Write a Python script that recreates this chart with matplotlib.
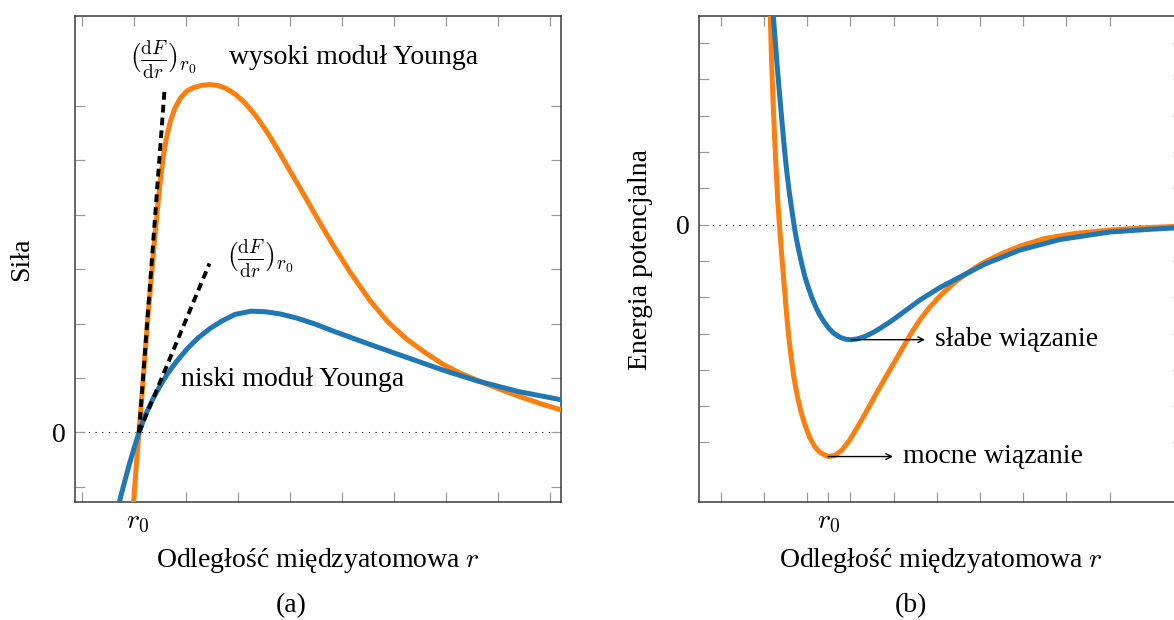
import matplotlib
matplotlib.use("Agg")
import matplotlib.pyplot as plt

plt.rcParams['font.family'] = ['Liberation Serif', 'DejaVu Serif']
plt.rcParams['mathtext.fontset'] = 'cm'

# ---------------- panel (a): force vs distance ----------------
r0_a = 1.07
force_strong_r = [0.987, 1.042, 1.096, 1.146, 1.204, 1.265, 1.333, 1.396, 1.458, 1.512, 1.567,
                  1.631, 1.702, 1.788, 1.894, 2.019, 2.154, 2.308, 2.462, 2.615, 2.769, 2.942,
                  3.135, 3.346, 3.558, 3.769, 4.000, 4.260, 4.538, 4.827, 5.154, 5.538, 5.885,
                  6.250, 6.596, 6.962, 7.269, 7.608, 8.000, 8.385, 8.808, 9.288]
force_strong_F = [-1.351, -0.634, 0.0, 0.597, 1.333, 2.105, 2.840, 3.539, 4.182, 4.678, 5.101,
                  5.450, 5.726, 5.965, 6.149, 6.278, 6.342, 6.382, 6.395, 6.379, 6.324, 6.222,
                  6.057, 5.818, 5.524, 5.193, 4.807, 4.384, 3.915, 3.447, 2.950, 2.425, 2.031,
                  1.710, 1.471, 1.241, 1.094, 0.956, 0.809, 0.671, 0.533, 0.395]
force_weak_r = [0.698, 0.808, 0.904, 1.000, 1.096, 1.212, 1.358, 1.500, 1.654, 1.827, 2.019,
                2.231, 2.462, 2.692, 2.942, 3.250, 3.519, 3.808, 4.115, 4.481, 4.827, 5.538,
                6.250, 6.962, 7.608, 8.385, 9.288]
force_weak_F = [-1.351, -0.947, -0.607, -0.294, 0.0, 0.303, 0.607, 0.855, 1.094, 1.314, 1.535,
                1.737, 1.912, 2.050, 2.170, 2.230, 2.220, 2.180, 2.107, 1.994, 1.866, 1.618,
                1.379, 1.140, 0.947, 0.754, 0.588]
tangent_strong_r = [1.096, 1.587]
tangent_strong_F = [0.0, 6.296]
tangent_weak_r = [1.096, 2.452]
tangent_weak_F = [0.0, 3.107]

# ---------------- panel (b): potential energy vs distance ----------------
r0_b = 2.49
energy_weak_r = [1.199, 1.218, 1.257, 1.296, 1.340, 1.384, 1.431, 1.477, 1.528, 1.581, 1.639,
                 1.697, 1.755, 1.813, 1.882, 1.951, 2.032, 2.113, 2.206, 2.299, 2.403, 2.507,
                 2.623, 2.762, 2.900, 3.016, 3.155, 3.340, 3.572, 3.919, 4.266, 4.613, 5.076,
                 5.539, 6.118, 6.928, 7.854, 9.012, 9.938, 10.748]
energy_weak_E = [6.052, 5.749, 5.143, 4.537, 3.904, 3.298, 2.664, 2.058, 1.479, 0.956, 0.460,
                 -0.008, -0.408, -0.752, -1.110, -1.441, -1.744, -2.019, -2.281, -2.501, -2.694, -2.860,
                 -2.997, -3.102, -3.157, -3.168, -3.149, -3.080, -2.942, -2.680, -2.377, -2.074, -1.730,
                 -1.441, -1.083, -0.697, -0.408, -0.201, -0.127, -0.074]
energy_strong_r = [1.141, 1.176, 1.211, 1.250, 1.289, 1.324, 1.359, 1.400, 1.444, 1.488, 1.530,
                   1.576, 1.632, 1.697, 1.773, 1.859, 1.951, 2.056, 2.171, 2.299, 2.484, 2.646,
                   2.808, 2.970, 3.141, 3.340, 3.565, 3.780, 3.988, 4.197, 4.414, 4.625, 4.838,
                   5.053, 5.262, 5.470, 5.685, 5.898, 6.109, 6.465, 6.951, 7.507, 8.201, 9.012,
                   9.938, 10.748]
energy_strong_E = [6.052, 4.537, 3.435, 2.333, 1.369, 0.598, -0.008, -0.669, -1.303, -1.937, -2.543,
                   -3.094, -3.672, -4.223, -4.719, -5.160, -5.518, -5.848, -6.110, -6.275, -6.388, -6.358,
                   -6.207, -5.959, -5.628, -5.215, -4.730, -4.278, -3.854, -3.424, -2.983, -2.598, -2.273,
                   -1.992, -1.758, -1.537, -1.353, -1.179, -1.030, -0.815, -0.581, -0.380, -0.242, -0.146,
                   -0.077, -0.036]
weak_min_r, weak_min_E = 3.016, -3.168
strong_min_r, strong_min_E = 2.484, -6.388
arrow_weak_end = 4.729
arrow_strong_end = 3.988

xticks_a = list(range(0, 10))
yticks_a = list(range(-1, 7))
xticks_b = list(range(0, 10))
yticks_b = list(range(-6, 6))

xlabel = "Odległość międzyatomowa $r$"

BLUE = '#1f77b4'
ORANGE = '#ff7f0e'
TICKC = '#9a9a9a'
SPINEC = '#3a3a3a'
FS = 20
LW = 3.6

W, H = 1174, 620
fig = plt.figure(figsize=(W / 100, H / 100), dpi=100)

def px_axes(l, t, r, b):
    return fig.add_axes([l / W, 1 - b / H, (r - l) / W, (b - t) / H])

axA = px_axes(75, 16, 560.7, 502)
axB = px_axes(698.5, 16, 1183, 502)

def style(ax, xt, yt):
    ax.set_xticks(xt)
    ax.set_yticks(yt)
    ax.set_xticklabels([])
    ax.set_yticklabels(['0' if v == 0 else '' for v in yt], fontsize=FS)
    ax.tick_params(which='major', direction='in', length=7.5, width=0.9, color=TICKC,
                   top=True, right=True, bottom=True, left=True)
    ax.tick_params(axis='y', which='major', pad=6.5)
    for s in ax.spines.values():
        s.set_color(SPINEC)
        s.set_linewidth(1.1)

DASH = (0, (2.0, 1.3))

# panel a
axA.set_xlim(-0.1346, 9.206)
axA.set_ylim(-1.278, 7.656)
style(axA, xticks_a, yticks_a)
axA.axhline(0, color='black', lw=0.8, ls=(0, (1, 5)), zorder=1)
axA.plot(force_strong_r, force_strong_F, color=ORANGE, lw=LW, zorder=3)
axA.plot(force_weak_r, force_weak_F, color=BLUE, lw=LW, zorder=3)
axA.plot(tangent_strong_r, tangent_strong_F, color='black', lw=2.8, ls=DASH, zorder=4)
axA.plot(tangent_weak_r, tangent_weak_F, color='black', lw=2.8, ls=DASH, zorder=4)
axA.set_xticks([r0_a], minor=True)
axA.set_xticklabels([r'$r_0$'], minor=True, fontsize=FS)
axA.tick_params(axis='x', which='minor', length=0, pad=6)
axA.text(1.558, 6.847, r'$(\frac{\mathrm{d}F}{\mathrm{d}r})_{r_0}$', fontsize=FS, ha='center', va='center')
axA.text(5.231, 6.902, 'wysoki moduł Younga', fontsize=FS, ha='center', va='center')
axA.text(3.423, 3.189, r'$(\frac{\mathrm{d}F}{\mathrm{d}r})_{r_0}$', fontsize=FS, ha='center', va='center')
axA.text(4.058, 0.983, 'niski moduł Younga', fontsize=FS, ha='center', va='center')
axA.set_xlabel(xlabel, fontsize=FS, va='center')
axA.xaxis.set_label_coords(0.5, -0.121)
axA.set_ylabel('Siła', fontsize=FS, va='center')
axA.yaxis.set_label_coords(-0.109, 0.5)

# panel b
axB.set_xlim(-0.514, 10.70)
axB.set_ylim(-7.64, 5.749)
style(axB, xticks_b, yticks_b)
axB.axhline(0, color='black', lw=0.8, ls=(0, (1, 5)), zorder=1)
axB.plot(energy_strong_r, energy_strong_E, color=ORANGE, lw=LW, zorder=3)
axB.plot(energy_weak_r, energy_weak_E, color=BLUE, lw=LW, zorder=3)
axB.set_xticks([r0_b], minor=True)
axB.set_xticklabels([r'$r_0$'], minor=True, fontsize=FS)
axB.tick_params(axis='x', which='minor', length=7.5, width=0.9, color=TICKC, direction='in', pad=6, top=False)
axB.annotate('', xy=(arrow_weak_end, weak_min_E), xytext=(weak_min_r, weak_min_E),
             arrowprops=dict(arrowstyle='->', color='black', lw=1.0, shrinkA=0, shrinkB=0), zorder=5)
axB.annotate('', xy=(arrow_strong_end, strong_min_E), xytext=(strong_min_r, strong_min_E),
             arrowprops=dict(arrowstyle='->', color='black', lw=1.0, shrinkA=0, shrinkB=0), zorder=5)
axB.text(arrow_weak_end + 0.23, weak_min_E, 'słabe wiązanie', fontsize=FS, ha='left', va='center')
axB.text(arrow_strong_end + 0.23, strong_min_E, 'mocne wiązanie', fontsize=FS, ha='left', va='center')
axB.set_xlabel(xlabel, fontsize=FS, va='center')
axB.xaxis.set_label_coords(0.5, -0.121)
axB.set_ylabel('Energia potencjalna', fontsize=FS, va='center')
axB.yaxis.set_label_coords(-0.119, 0.5)

fig.text(290.7 / W, 1 - 606 / H, '(a)', fontsize=FS, ha='center', va='center')
fig.text(911 / W, 1 - 606 / H, '(b)', fontsize=FS, ha='center', va='center')

fig.savefig('out.png', dpi=100)
